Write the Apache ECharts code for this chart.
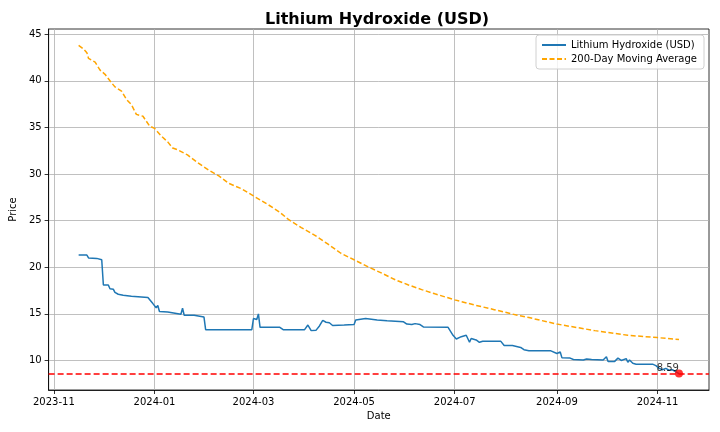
<!DOCTYPE html>
<html>
<head>
<meta charset="utf-8">
<script src="https://cdn.jsdelivr.net/npm/echarts@6/dist/echarts.min.js"></script>
<style>
  html, body { margin: 0; padding: 0; background: #fff; }
  #chart { width: 720px; height: 432px; }
</style>
</head>
<body>
<div id="chart"></div>
<script>
// Lithium Hydroxide price
var priceDates = ['2023-11-16','2023-11-21','2023-11-22','2023-11-27','2023-11-28','2023-11-30','2023-12-01','2023-12-04','2023-12-05','2023-12-07','2023-12-08','2023-12-10','2023-12-13','2023-12-14','2023-12-18','2023-12-19','2023-12-28','2023-12-31','2024-01-02','2024-01-03','2024-01-04','2024-01-09','2024-01-10','2024-01-17','2024-01-18','2024-01-19','2024-01-25','2024-01-26','2024-01-31','2024-02-01','2024-02-29','2024-03-01','2024-03-03','2024-03-04','2024-03-05','2024-03-17','2024-03-19','2024-04-01','2024-04-03','2024-04-05','2024-04-08','2024-04-10','2024-04-12','2024-04-14','2024-04-16','2024-04-18','2024-04-25','2024-05-01','2024-05-02','2024-05-08','2024-05-09','2024-05-15','2024-05-21','2024-05-22','2024-05-31','2024-06-02','2024-06-05','2024-06-07','2024-06-08','2024-06-10','2024-06-12','2024-06-27','2024-06-28','2024-06-30','2024-07-02','2024-07-05','2024-07-08','2024-07-09','2024-07-10','2024-07-11','2024-07-14','2024-07-16','2024-07-18','2024-07-29','2024-07-31','2024-08-05','2024-08-06','2024-08-10','2024-08-12','2024-08-15','2024-08-28','2024-09-01','2024-09-02','2024-09-03','2024-09-04','2024-09-09','2024-09-11','2024-09-17','2024-09-19','2024-09-22','2024-09-29','2024-09-30','2024-10-01','2024-10-02','2024-10-06','2024-10-08','2024-10-10','2024-10-11','2024-10-13','2024-10-14','2024-10-15','2024-10-17','2024-10-19','2024-10-29','2024-10-31','2024-11-02','2024-11-04','2024-11-06','2024-11-08','2024-11-10','2024-11-14'];
var priceValues = [21.3,21.3,21.0,20.95,20.85,20.8,18.1,18.1,17.7,17.65,17.3,17.1,17.0,16.9,16.9,16.7,16.75,16.1,15.65,15.9,15.25,15.2,15.0,14.95,15.6,14.85,14.85,14.65,14.65,13.3,13.3,14.5,14.4,15.0,13.55,13.55,13.3,13.3,13.8,13.2,13.25,13.7,14.3,14.1,14.05,13.75,13.8,13.85,14.35,14.5,14.4,14.35,14.25,14.2,14.15,13.9,13.85,13.95,13.75,13.85,13.6,13.55,13.35,12.7,12.3,12.55,12.7,12.6,11.95,12.35,12.2,11.95,12.05,12.05,11.6,11.6,11.4,11.4,11.15,11.05,11.05,10.75,10.6,10.9,10.3,10.25,10.1,10.05,10.15,10.1,10.05,10.0,10.4,9.9,9.9,10.25,10.0,9.8,10.2,9.8,10.05,9.7,9.6,9.6,9.45,9.15,9.0,9.15,8.95,9.0,8.59];

// 200-day moving average
var maDates = ['2023-11-16','2023-11-19','2023-11-21','2023-11-22','2023-11-26','2023-11-29','2023-12-02','2023-12-05','2023-12-08','2023-12-12','2023-12-15','2023-12-18','2023-12-21','2023-12-25','2023-12-29','2024-01-01','2024-01-05','2024-01-09','2024-01-12','2024-01-15','2024-01-21','2024-01-27','2024-02-03','2024-02-09','2024-02-15','2024-02-23','2024-03-01','2024-03-10','2024-03-17','2024-03-22','2024-03-30','2024-04-07','2024-04-15','2024-04-23','2024-05-01','2024-05-10','2024-05-18','2024-05-26','2024-06-03','2024-06-11','2024-06-19','2024-07-01','2024-07-13','2024-07-25','2024-08-08','2024-08-15','2024-09-01','2024-09-24','2024-10-14','2024-11-01','2024-11-14'];
var maValues = [43.8,43.4,43.0,42.4,42.0,41.15,40.7,40.0,39.35,38.9,38.0,37.45,36.4,36.2,35.15,34.9,34.1,33.45,32.8,32.6,32.05,31.25,30.4,29.8,29.0,28.4,27.65,26.7,25.9,25.15,24.25,23.45,22.5,21.5,20.8,20.0,19.35,18.65,18.1,17.6,17.15,16.5,15.95,15.45,14.85,14.6,13.9,13.2,12.7,12.45,12.25];

var xTicks = ['2023-11-01','2024-01-01','2024-03-01','2024-05-01','2024-07-01','2024-09-01','2024-11-01'];
var yTicks = [10, 15, 20, 25, 30, 35, 40, 45];

function t(s) { return new Date(s + 'T00:00:00').getTime(); }
function pair(dates, vals) {
    return dates.map(function (d, i) { return [t(d), vals[i]]; });
}

var lastIdx = priceValues.length - 1;
var lastVal = priceValues[lastIdx];
var lastPoint = [t(priceDates[lastIdx]), lastVal];

// matplotlib style 5% margins
var x0 = t(priceDates[0]), x1 = t(priceDates[lastIdx]);
var xPad = (x1 - x0) * 0.05;
var yLo = Math.min.apply(null, priceValues.concat(maValues));
var yHi = Math.max.apply(null, priceValues.concat(maValues));
var yPad = (yHi - yLo) * 0.05;

var font = 'DejaVu Sans';

var chartDom = document.getElementById('chart');
var myChart = echarts.init(chartDom);

var option = {
    animation: false,
    backgroundColor: '#fff',
    textStyle: { fontFamily: font },
    title: {
        text: 'Lithium Hydroxide (USD)',
        left: 260,
        top: 7,
        textStyle: { fontFamily: font, fontSize: 16, fontWeight: 'bold', color: '#000' }
    },
    legend: {
        right: 16,
        top: 35,
        orient: 'vertical',
        backgroundColor: 'rgba(255,255,255,0.8)',
        borderColor: '#d0d0d0',
        borderWidth: 1,
        borderRadius: 3,
        padding: [5, 7, 5, 5],
        itemWidth: 24,
        itemHeight: 10,
        itemGap: 4,
        itemStyle: { opacity: 0 },
        textStyle: { fontFamily: font, fontSize: 10, color: '#000' },
        data: ['Lithium Hydroxide (USD)', '200-Day Moving Average']
    },
    grid: {
        left: 45,
        right: 11,
        top: 29,
        bottom: 42,
        show: true,
        borderColor: '#000',
        borderWidth: 0.8
    },
    xAxis: {
        type: 'value',
        min: x0 - xPad,
        max: x1 + xPad,
        name: 'Date',
        nameLocation: 'middle',
        nameGap: 21,
        nameTextStyle: { fontFamily: font, fontSize: 10, color: '#000' },
        axisLine: { show: true, lineStyle: { color: '#000', width: 0.8 } },
        axisTick: { show: true, length: 4, customValues: xTicks.map(t), lineStyle: { color: '#000', width: 0.8 } },
        axisLabel: {
            customValues: xTicks.map(t),
            margin: 7,
            fontFamily: font,
            fontSize: 10,
            color: '#000',
            formatter: function (v) {
                var d = new Date(v);
                var m = d.getMonth() + 1;
                return d.getFullYear() + '-' + (m < 10 ? '0' + m : m);
            }
        },
        splitLine: { show: true, lineStyle: { color: '#b0b0b0', width: 0.8 } }
    },
    yAxis: {
        type: 'value',
        min: yLo - yPad,
        max: yHi + yPad,
        name: 'Price',
        nameLocation: 'middle',
        nameGap: 30,
        nameTextStyle: { fontFamily: font, fontSize: 10, color: '#000' },
        axisLine: { show: true, lineStyle: { color: '#000', width: 0.8 } },
        axisTick: { show: true, length: 4, customValues: yTicks, lineStyle: { color: '#000', width: 0.8 } },
        axisLabel: { customValues: yTicks, margin: 7, fontFamily: font, fontSize: 10, color: '#000' },
        splitLine: { show: true, lineStyle: { color: '#b0b0b0', width: 0.8 } }
    },
    series: [
        {
            name: 'Lithium Hydroxide (USD)',
            type: 'line',
            data: pair(priceDates, priceValues),
            symbol: 'none',
            lineStyle: { color: '#1f77b4', width: 1.5 },
            itemStyle: { color: '#1f77b4' },
            z: 3,
            markLine: {
                silent: true,
                symbol: 'none',
                label: { show: false },
                lineStyle: { color: '#ff0000', type: [6, 3], width: 1.5 },
                data: [{ yAxis: lastVal }]
            }
        },
        {
            name: '200-Day Moving Average',
            type: 'line',
            data: pair(maDates, maValues),
            symbol: 'none',
            lineStyle: { color: '#ffa500', width: 1.5, type: [5, 2.5] },
            itemStyle: { color: '#ffa500' },
            z: 2
        },
        {
            name: 'last',
            type: 'scatter',
            data: [lastPoint],
            symbol: 'circle',
            symbolSize: 8,
            itemStyle: { color: '#ff0000' },
            z: 5,
            label: {
                show: true,
                position: 'left',
                distance: 0,
                offset: [4, -5],
                fontFamily: font,
                fontSize: 10,
                color: '#000',
                formatter: function (p) { return p.value[1].toFixed(2); }
            }
        }
    ]
};

option && myChart.setOption(option);
new ResizeObserver(() => myChart.resize()).observe(chartDom);
</script>
</body>
</html>
